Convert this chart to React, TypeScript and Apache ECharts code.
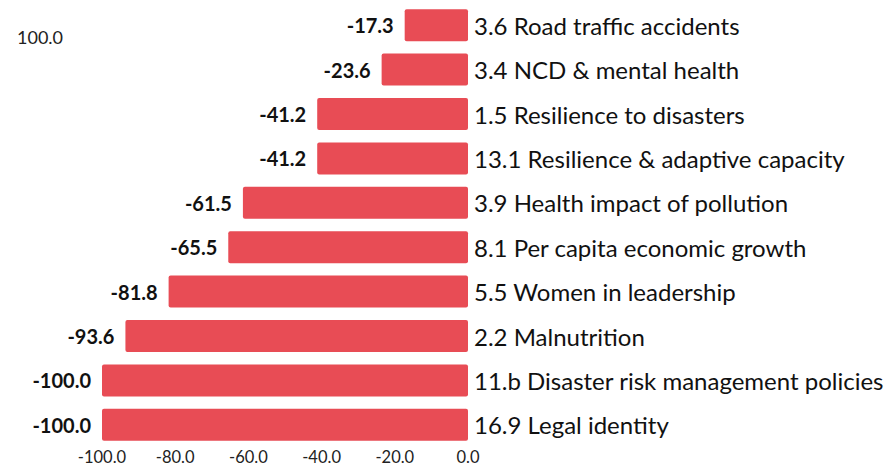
import React, { useEffect, useRef } from "react";
import * as echarts from "echarts";

const categories = [
  "3.6 Road traffic accidents",
  "3.4 NCD & mental health",
  "1.5 Resilience to disasters",
  "13.1 Resilience & adaptive capacity",
  "3.9 Health impact of pollution",
  "8.1 Per capita economic growth",
  "5.5 Women in leadership",
  "2.2 Malnutrition",
  "11.b Disaster risk management policies",
  "16.9 Legal identity",
];
const values = [-17.3, -23.6, -41.2, -41.2, -61.5, -65.5, -81.8, -93.6, -100.0, -100.0];
const xTicks = [-100, -80, -60, -40, -20, 0];

const FONT = "Lato";

export default function App() {
  const ref = useRef<HTMLDivElement>(null);
  useEffect(() => {
    const chart = echarts.init(ref.current!, null, { renderer: "svg" });
    chart.setOption({
      animation: false,
      textStyle: { fontFamily: FONT },
      grid: { left: 102, right: 426, top: 3, bottom: 19, containLabel: false },
      graphic: [
        {
          type: "text",
          left: 17,
          top: 28,
          style: { text: "100.0", fontSize: 18, fill: "#222", fontFamily: FONT },
        },
      ],
      xAxis: {
        type: "value",
        min: xTicks[0],
        max: xTicks[xTicks.length - 1],
        interval: 20,
        splitLine: { show: false },
        axisLine: { show: false },
        axisTick: { show: false },
        axisLabel: {
          fontSize: 16.5,
          lineHeight: 16,
          color: "#222",
          margin: 2,
          formatter: (v: number) => v.toFixed(1),
        },
      },
      yAxis: {
        type: "category",
        data: categories,
        inverse: true,
        position: "right",
        axisLine: { show: false },
        axisTick: { show: false },
        axisLabel: { fontSize: 24, color: "#111", margin: 6, align: "left" },
      },
      series: [
        {
          type: "bar",
          data: values,
          barWidth: 32,
          itemStyle: { color: "#E84C55", borderRadius: 2 },
          label: {
            show: true,
            position: "left",
            distance: 11,
            fontSize: 20,
            fontWeight: "bold",
            color: "#111",
            formatter: (p: any) => p.value.toFixed(1),
          },
        },
      ],
    });
    return () => chart.dispose();
  }, []);
  return <div ref={ref} style={{ width: 894, height: 466, position: "absolute", left: 0, top: 0 }} />;
}
